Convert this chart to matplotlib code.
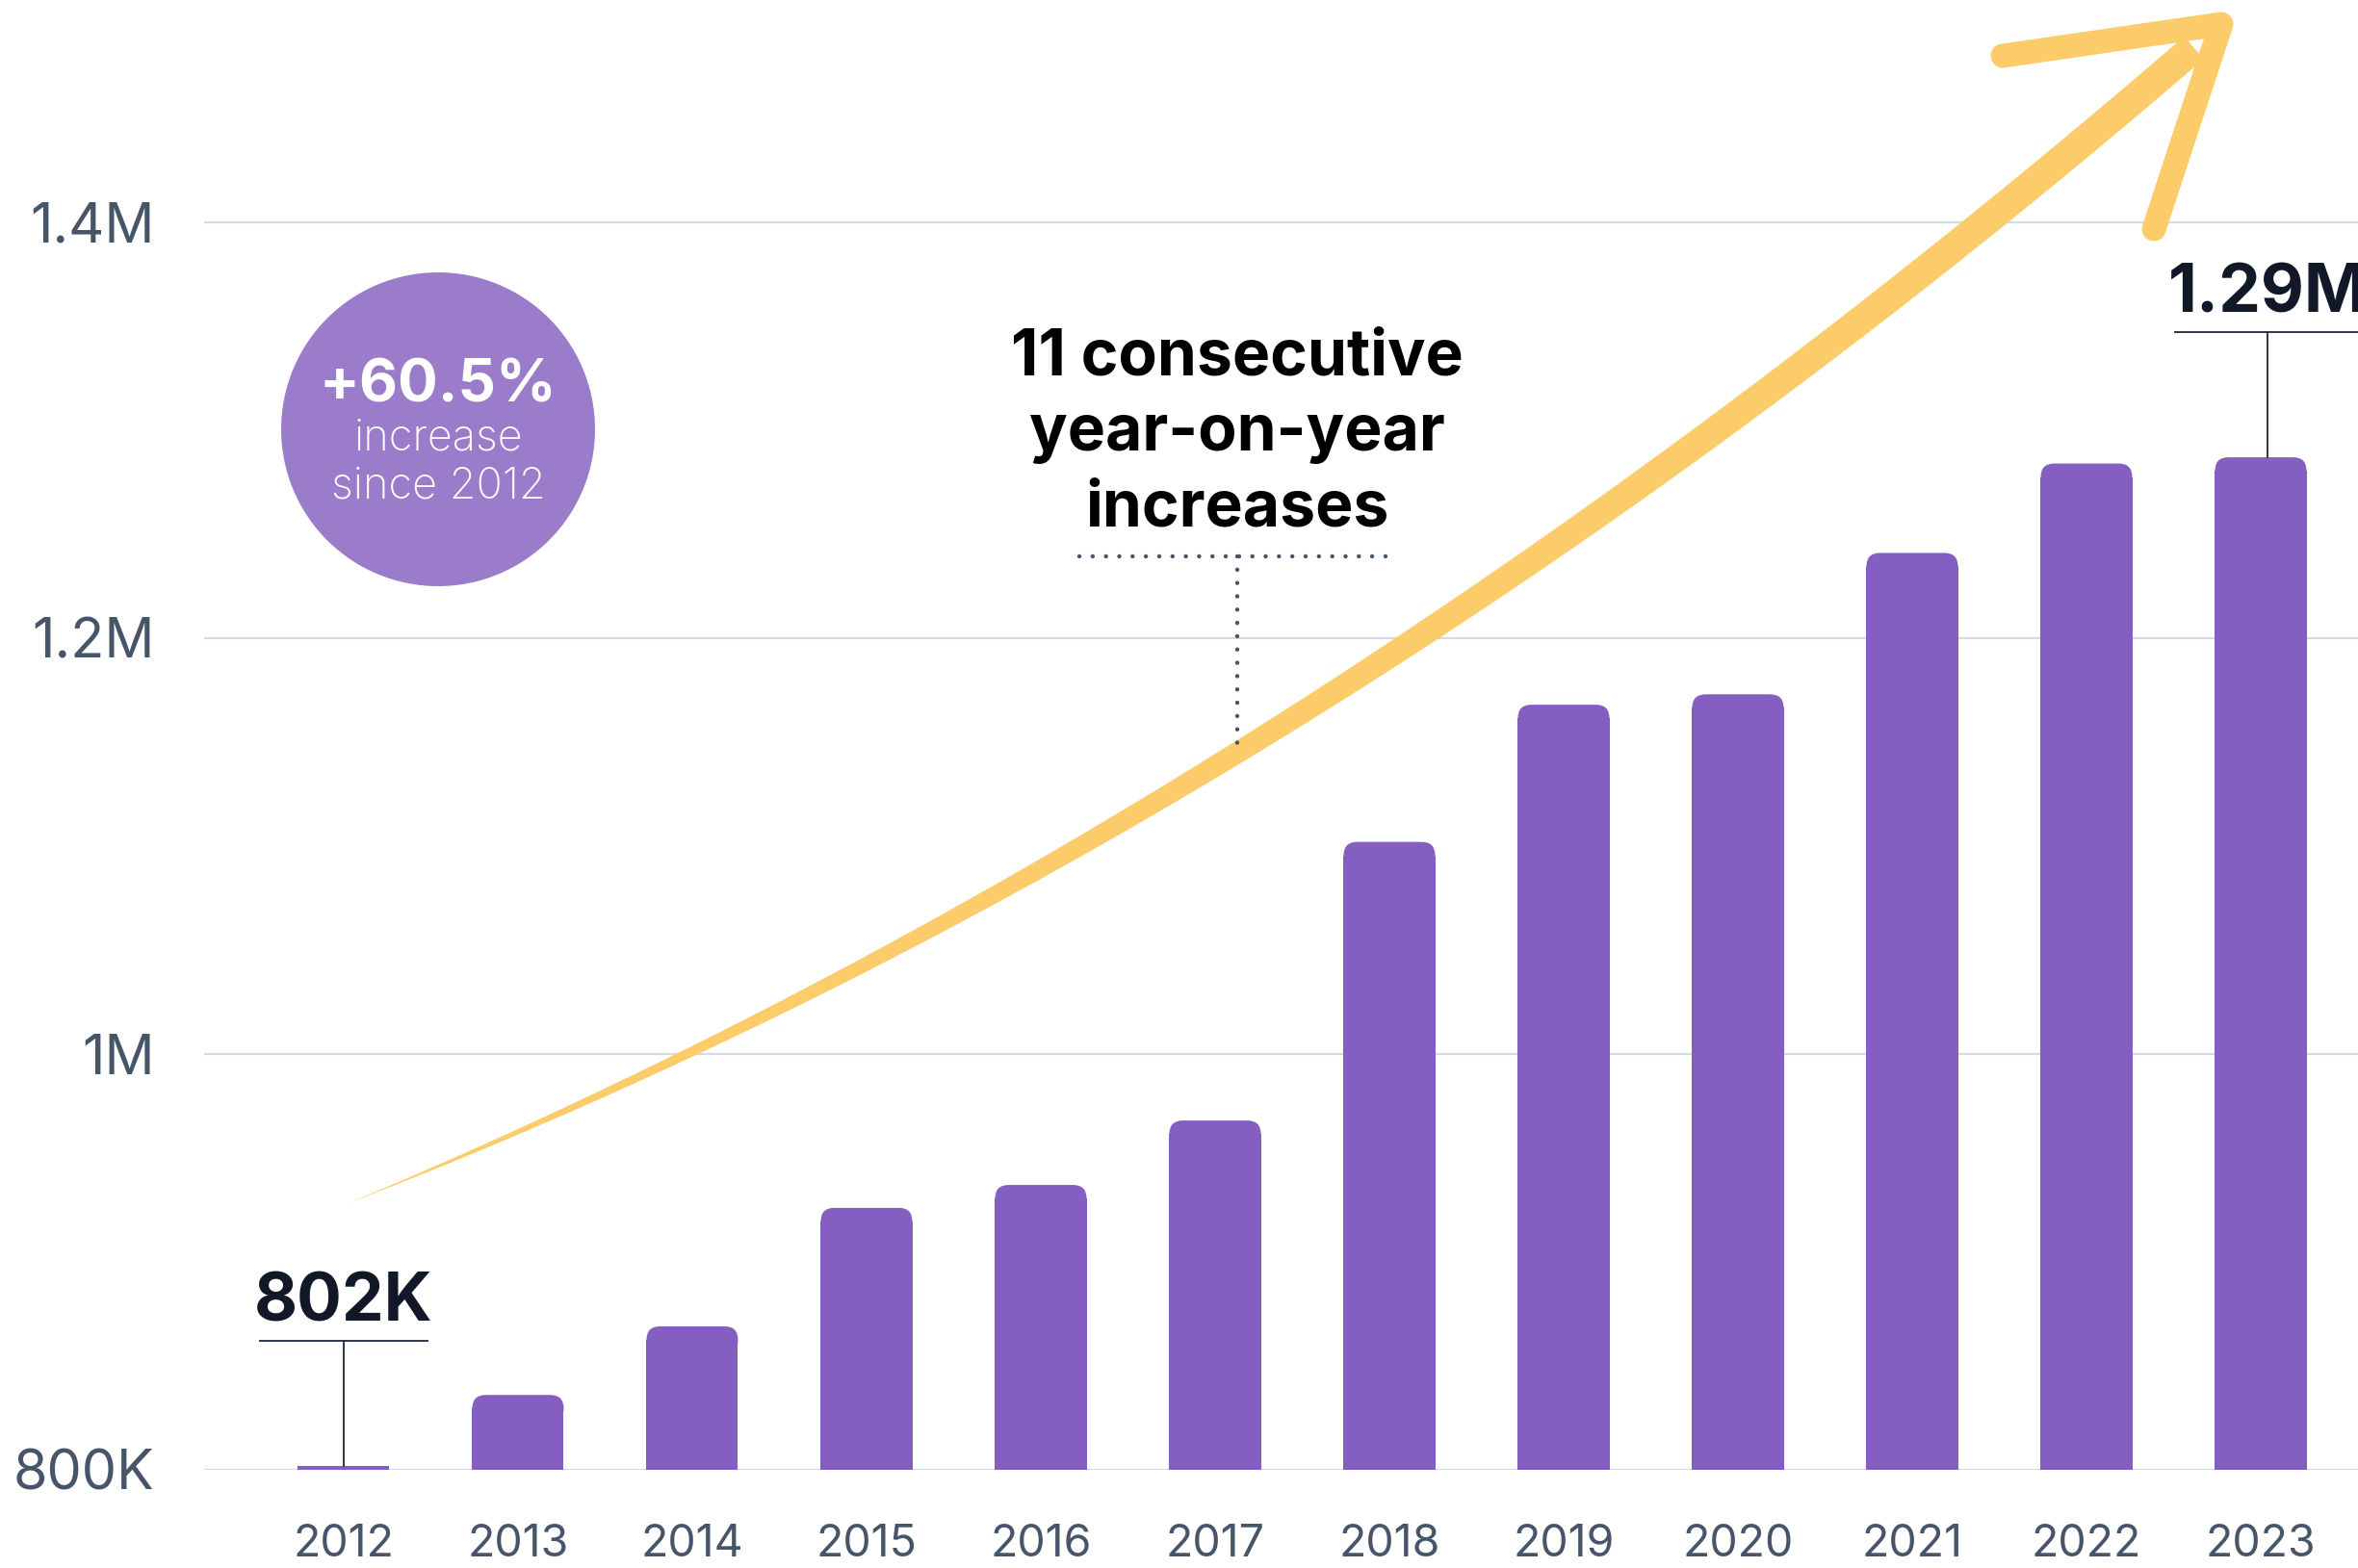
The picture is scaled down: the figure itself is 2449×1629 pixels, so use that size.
import numpy as np
import matplotlib.pyplot as plt
from matplotlib.patches import FancyBboxPatch, Polygon, Ellipse
from matplotlib.lines import Line2D

plt.rcParams['font.family'] = ['Inter', 'DejaVu Sans']

years = ['2012', '2013', '2014', '2015', '2016', '2017',
         '2018', '2019', '2020', '2021', '2022', '2023']
applications = [802000, 836000, 869000, 926000, 937000, 968000,
                1102000, 1168000, 1173000, 1241000, 1284000, 1287000]
ytick_vals = [800000, 1000000, 1200000, 1400000]
ytick_labels = ['800K', '1M', '1.2M', '1.4M']
callout_years = ['2012', '2023']
callout_labels = ['802K', '1.29M']
callout_halfwidth = [0.48, 0.53]
callout_shift = [0.0, 0.04]

BAR = '#845EC1'
BUBBLE = '#9B7CCB'
ARROW = '#FCCC6B'
TICK = '#475569'
GRID = '#D3DBE5'
DARK = '#111827'

W, H = 2449, 1629
fig = plt.figure(figsize=(W / 100, H / 100), dpi=100)
ax = fig.add_axes([212 / W, (H - 1527) / H, (W - 212) / W, 1527 / H])

x = np.arange(len(years))
bars = ax.bar(x, np.array(applications) - 800000, bottom=800000, width=0.525,
              color=BAR, zorder=3)

ax.set_xlim(-0.801, 11.558)
ax.set_ylim(800000, 1506944)
ax.set_yticks(ytick_vals)
ax.set_yticklabels(ytick_labels)
ax.set_xticks(x)
ax.set_xticklabels(years)
ax.tick_params(axis='y', length=0, pad=37, labelsize=41.5, labelcolor=TICK)
ax.tick_params(axis='x', length=0, pad=40, labelsize=33.5, labelcolor=TICK)
ax.grid(axis='y', color=GRID, linewidth=1.6, zorder=0)
ax.set_axisbelow(True)
for s in ax.spines.values():
    s.set_visible(False)

# rounded tops on the bars
px_x = 1.0 / 181.0            # x data units per pixel
px_y = 200000 / 432.0         # y data units per pixel
r_x, r_y = 14 * px_x, 14 * px_y
for rect in bars:
    h = rect.get_height()
    if h > 2 * r_y:
        x0, y0, w = rect.get_x(), rect.get_y(), rect.get_width()
        rect.set_height(h - r_y)
        cap = FancyBboxPatch((x0, y0 + h - 2 * r_y), w, 2 * r_y,
                             boxstyle=f'round,pad=0,rounding_size={r_x}',
                             mutation_aspect=r_y / r_x, color=BAR,
                             linewidth=0, zorder=3)
        ax.add_patch(cap)

# value callouts
for yr, lab, hw, sh in zip(callout_years, callout_labels, callout_halfwidth,
                           callout_shift):
    i = years.index(yr)
    v = applications[i]
    top = v + 60000
    cx = i + sh
    ax.plot([cx, cx], [v, top], color='#2D3748', lw=1.4, zorder=4, clip_on=False)
    ax.plot([cx - hw, cx + hw], [top, top], color='#2D3748', lw=1.4, zorder=4,
            clip_on=False)
    ax.text(cx, top + 9500, lab, ha='center', va='baseline', fontsize=50,
            fontweight='bold', color=DARK, clip_on=False)


def fx(p):
    return p / W


def fy(p):
    return 1 - p / H


# growth arrow: tapered curved shaft
P0 = np.array([362, 1250])
P1 = np.array([1360, 849])
P2 = np.array([2307, 25])
t = np.linspace(0, 0.985, 300)[:, None]
pts = (1 - t) ** 2 * P0 + 2 * (1 - t) * t * P1 + t ** 2 * P2
tan = 2 * (1 - t) * (P1 - P0) + 2 * t * (P2 - P1)
tan = tan / np.linalg.norm(tan, axis=1, keepdims=True)
nrm = np.column_stack([-tan[:, 1], tan[:, 0]])
wid = 31 * (1 - (1 - t) ** 2)
left = pts + nrm * wid / 2
right = pts - nrm * wid / 2
outline = np.vstack([left, right[::-1]])
fig.add_artist(Polygon(np.column_stack([fx(outline[:, 0]), fy(outline[:, 1])]),
                       closed=True, color=ARROW, linewidth=0, zorder=5))
head = np.array([[2080, 58], [2307, 25], [2237, 238]])
fig.add_artist(Line2D(fx(head[:, 0]), fy(head[:, 1]), color=ARROW, lw=18,
                      solid_capstyle='round', solid_joinstyle='round', zorder=5))

# bubble
fig.add_artist(Ellipse((fx(455), fy(446)), 326 / W, 326 / H, color=BUBBLE,
                       linewidth=0, zorder=6))
fig.text(fx(455), fy(417), '+60.5%', ha='center', va='baseline', fontsize=44.5,
         fontweight='bold', color='white', zorder=7)
fig.text(fx(455), fy(467), 'increase', ha='center', va='baseline', fontsize=32.5,
         fontweight='light', color='white', zorder=7)
fig.text(fx(455), fy(517), 'since 2012', ha='center', va='baseline', fontsize=32.5,
         fontweight='light', color='white', zorder=7)

# annotation
note = ['11 consecutive', 'year-on-year', 'increases']
for line, base in zip(note, [390, 468, 547]):
    fig.text(fx(1285), fy(base), line, ha='center', va='baseline', fontsize=47.5,
             fontweight='bold', color='black', zorder=7)
dots = dict(color=TICK, lw=3.2, linestyle=(0, (0.01, 3.1)),
            dash_capstyle='round', zorder=7)
fig.add_artist(Line2D([fx(1121), fx(1439)], [fy(578), fy(578)], **dots))
fig.add_artist(Line2D([fx(1285), fx(1285)], [fy(578), fy(777)], **dots))

fig.savefig('out.png', dpi=100)
